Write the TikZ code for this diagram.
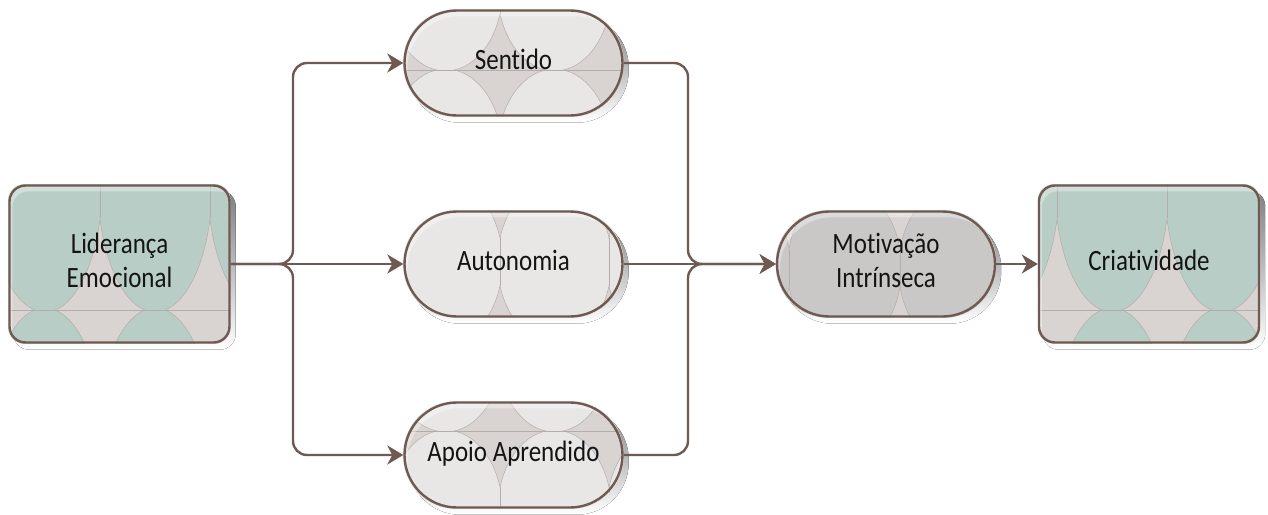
\documentclass[tikz,border=0pt]{standalone}
\usepackage{graphicx}
\usepackage{fontspec}
\setmainfont{Carlito}[Ligatures=NoCommon]
\usetikzlibrary{arrows.meta,shapes.misc,backgrounds}

\definecolor{edge}{HTML}{6E5A52}
\definecolor{ground}{HTML}{D9D4D1}
\definecolor{mint}{HTML}{B9CDC7}
\definecolor{pearl}{HTML}{E8E7E6}
\definecolor{stone}{HTML}{C9C8C6}
\definecolor{seam}{HTML}{B3ADA9}
\definecolor{shade}{HTML}{CEC8C4}
\definecolor{ink}{HTML}{141414}

% two-line labels, slightly tall type
\newcommand\lbl[1]{\scalebox{1}[1.18]{\begin{tabular}{@{}c@{}}#1\end{tabular}}}

% scale texture: tiles of \tw x \th, each holding an ellipse (\ea x \eb) clipped to the tile
\def\tw{110}\def\th{250}\def\ea{57}\def\eb{127}
\newcommand\weave[6]{% node, corner radius, ground colour, scale colour, seam corner x, y
  \coordinate (lo) at (#1.west |- #1.south);
  \coordinate (hi) at (#1.east |- #1.north);
  \fill[shade, rounded corners=#2] ([shift={(5,6)}]lo) rectangle ([shift={(5,6)}]hi);
  \pgfmathsetmacro\dyc{\eb*sqrt(1-(0.5*\tw/\ea)^2)}
  \begin{scope}
    \clip[rounded corners=#2] (lo) rectangle (hi);
    \fill[#3] (lo) rectangle (hi);
    \foreach \i in {-2,...,2}{
      \foreach \j in {-1,0}{
        \begin{scope}
          \clip (#5+\tw*\i, #6+\th*\j) rectangle ++(\tw,\th);
          \filldraw[fill=#4, draw=seam, line width=0.5pt]
            (#5+\tw*\i+0.5*\tw, #6+\th*\j+0.5*\th) ellipse [x radius=\ea pt, y radius=\eb pt];
        \end{scope}
        % seams where neighbouring scales meet
        \draw[seam, line width=0.5pt]
          (#5+\tw*\i, #6+\th*\j+0.5*\th-\dyc) -- (#5+\tw*\i, #6+\th*\j+0.5*\th+\dyc);
        \draw[seam, line width=0.5pt] (#5+\tw*\i, #6+\th*\j) -- ++(\tw,0);
      }}
    % glossy rim along the top and left
    \fill[white, opacity=0.35, even odd rule, rounded corners=#2]
      (lo) rectangle (hi)
      ([shift={(4,7)}]lo) rectangle ([shift={(4,7)}]hi);
  \end{scope}}

\tikzset{
  card/.style={draw=edge, line width=2.4pt, rounded corners=16pt,
    minimum width=220pt, minimum height=157pt, inner sep=0pt},
  capsule/.style={draw=edge, line width=2.4pt, rounded rectangle,
    minimum width=218pt, minimum height=105pt, inner sep=0pt},
  link/.style={draw=edge, line width=2.4pt, rounded corners=14pt,
    -{Stealth[length=16pt,width=19pt,inset=5pt]}},
  every node/.append style={text=ink, font=\fontsize{25}{29}\selectfont},
}

\begin{document}
\begin{tikzpicture}[x=1pt,y=-1pt]
  \useasboundingbox (0,0) rectangle (1268,514);

  % boxes and capsules
  \node[card]    (L) at (119.5,264)  {\lbl{Liderança\\Emocional}};
  \node[capsule] (S) at (513.5,63)   {\lbl{Sentido}};
  \node[capsule] (A) at (513.5,264)  {\lbl{Autonomia}};
  \node[capsule] (P) at (513.5,455)  {\lbl{Apoio Aprendido}};
  \node[capsule] (M) at (886,264)    {\lbl{Motivação\\Intrínseca}};
  \node[card]    (C) at (1149,264)   {\lbl{Criatividade}};

  % branch points
  \coordinate (jl) at (293,264);
  \coordinate (jr) at (688,264);

  % connectors
  \draw[link] (L.east) -- (jl) |- (S.west);
  \draw[link] (L.east) -- (A.west);
  \draw[link] (L.east) -- (jl) |- (P.west);
  \draw[link] (S.east) -| (jr) -- (M.west);
  \draw[link] (A.east) -- (M.west);
  \draw[link] (P.east) -| (jr) -- (M.west);
  \draw[link] (M.east) -- (C.west);

  % shadows and textures behind the shapes
  \begin{scope}[on background layer]
    \fill[white] (0,0) rectangle (1268,514);
    \weave{L}{16pt}{ground}{mint}{100}{310}
    \weave{C}{16pt}{ground}{mint}{1057}{310}
    \def\tw{109}\def\th{160}\def\ea{57}\def\eb{81}
    \weave{S}{52pt}{ground}{pearl}{500}{70}
    \weave{A}{52pt}{ground}{pearl}{500}{182}
    \weave{P}{52pt}{ground}{pearl}{500}{431}
    \def\tw{111}
    \weave{M}{52pt}{ground}{stone}{900}{188}
  \end{scope}
\end{tikzpicture}
\end{document}
